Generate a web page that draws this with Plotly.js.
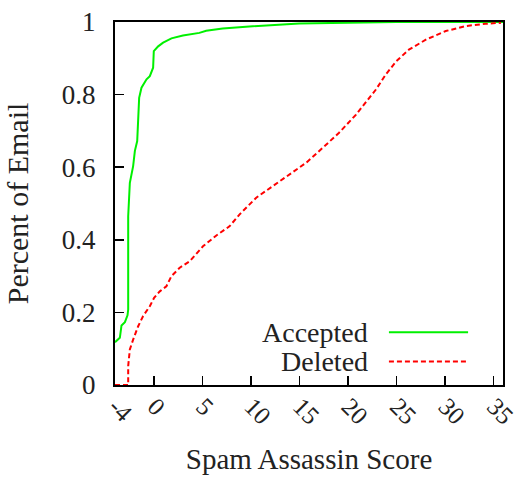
<!DOCTYPE html>
<html>
<head>
<meta charset="utf-8">
<script src="https://cdn.plot.ly/plotly-3.0.1.min.js"></script>
<style>html,body{margin:0;padding:0;background:#fff;}#chart{width:518px;height:479px;}</style>
</head>
<body>
<div id="chart"></div>
<script>
// Accepted (green, solid)
var acceptedX = [-4, -3.5, -3.33, -2.98, -2.71, -2.64, -2.64, -2.47, -2.13, -1.95, -1.71, -1.61, -1.51, -1.27, -0.75, -0.41, -0.24, -0.07, 0, 0.45, 0.96, 1.82, 3.0, 4.7, 5.4, 7.1, 9.5, 12, 15, 20, 25, 36];
var acceptedY = [0.118, 0.13, 0.164, 0.173, 0.192, 0.208, 0.465, 0.557, 0.603, 0.645, 0.672, 0.745, 0.791, 0.819, 0.842, 0.851, 0.864, 0.874, 0.92, 0.933, 0.943, 0.955, 0.963, 0.970, 0.976, 0.982, 0.987, 0.992, 0.996, 0.998, 1.0, 1.0];
// Deleted (red, dashed)
var deletedX = [-4, -2.64, -2.64, -2.47, -2.13, -1.61, -1.1, -0.41, 0.03, 0.62, 1.3, 1.82, 2.67, 3.7, 5.07, 6.45, 7.8, 8.85, 10.56, 12.27, 14.0, 15.7, 17.4, 19.1, 20.85, 21.9, 22.9, 23.9, 25.0, 26.3, 28.1, 30.1, 32.2, 34.2, 35.8];
var deletedY = [0, 0, 0.052, 0.098, 0.125, 0.162, 0.19, 0.217, 0.24, 0.258, 0.272, 0.30, 0.323, 0.341, 0.382, 0.412, 0.437, 0.470, 0.516, 0.548, 0.580, 0.612, 0.653, 0.695, 0.745, 0.782, 0.814, 0.855, 0.892, 0.924, 0.952, 0.975, 0.989, 0.995, 0.998];

var xTickVals = [-4, 0, 5, 10, 15, 20, 25, 30, 35];
var xTickText = ['-4', '0', '5', '10', '15', '20', '25', '30', '35'];
var yTickVals = [0, 0.2, 0.4, 0.6, 0.8, 1];
var yTickText = ['0', '0.2', '0.4', '0.6', '0.8', '1'];
var seriesNames = ['Accepted', 'Deleted'];

var FONT = 'Liberation Serif, Times New Roman, serif';
var TXT = '#222';
var GREEN = '#00f000';
var RED = '#ff0000';
var traces = [
  {x: acceptedX, y: acceptedY, type: 'scatter', mode: 'lines', name: seriesNames[0],
   line: {color: GREEN, width: 2}, showlegend: false},
  {x: deletedX, y: deletedY, type: 'scatter', mode: 'lines', name: seriesNames[1],
   line: {color: RED, width: 2, dash: '5px,3px'}, showlegend: false}
];

var layout = {
  width: 518, height: 479,
  margin: {l: 115, r: 15, t: 22, b: 94, pad: 0},
  paper_bgcolor: '#fff', plot_bgcolor: '#fff',
  font: {family: FONT, size: 27, color: TXT},
  xaxis: {
    range: [-4, 36], tickmode: 'array', tickvals: xTickVals, ticktext: xTickText,
    tickangle: 45, ticks: 'inside', ticklen: 9, tickwidth: 1.5, tickcolor: '#000',
    ticklabeloverflow: 'allow', ticklabelshift: 1, ticklabelstandoff: -5,
    showline: true, linecolor: '#000', linewidth: 2, mirror: true,
    showgrid: false, zeroline: false, automargin: false,
    tickfont: {family: FONT, size: 25, color: TXT},
    title: {text: 'Spam Assassin Score', font: {family: FONT, size: 29, color: TXT}, standoff: 20}
  },
  yaxis: {
    range: [0, 1], tickmode: 'array', tickvals: yTickVals, ticktext: yTickText,
    ticks: 'inside', ticklen: 9, tickwidth: 1.5, tickcolor: '#000',
    ticklabelstandoff: 12,
    showline: true, linecolor: '#000', linewidth: 2, mirror: true,
    showgrid: false, zeroline: false, automargin: false,
    tickfont: {family: FONT, size: 27, color: TXT},
    title: {text: 'Percent of Email', font: {family: FONT, size: 30, color: TXT}, standoff: 24}
  },
  annotations: [
    {xref: 'paper', yref: 'paper', x: 0.657, y: 0.145, xanchor: 'right', yanchor: 'middle',
     text: seriesNames[0], showarrow: false, font: {family: FONT, size: 28, color: TXT}},
    {xref: 'paper', yref: 'paper', x: 0.657, y: 0.065, xanchor: 'right', yanchor: 'middle',
     text: seriesNames[1], showarrow: false, font: {family: FONT, size: 28, color: TXT}}
  ],
  shapes: [
    {type: 'line', xref: 'paper', yref: 'paper', x0: 0.706, x1: 0.910, y0: 0.145, y1: 0.145,
     line: {color: GREEN, width: 2}},
    {type: 'line', xref: 'paper', yref: 'paper', x0: 0.706, x1: 0.910, y0: 0.065, y1: 0.065,
     line: {color: RED, width: 2, dash: '5px,3px'}}
  ]
};

Plotly.newPlot('chart', traces, layout, {displayModeBar: false, staticPlot: true});
</script>
</body>
</html>
